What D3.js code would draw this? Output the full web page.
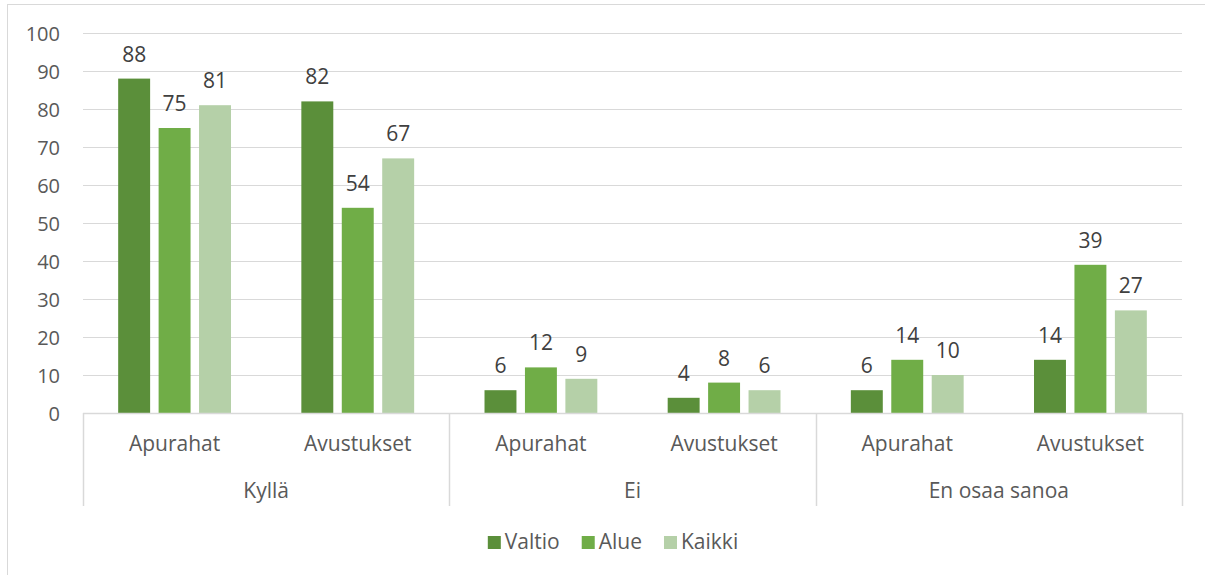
<!DOCTYPE html>
<html>
<head>
<meta charset="utf-8">
<script src="https://cdn.jsdelivr.net/npm/d3@7/dist/d3.min.js"></script>
<style>
  html, body { margin: 0; padding: 0; background: #fff; }
  svg { display: block; }
  text { font-family: "Open Sans", "Liberation Sans", sans-serif; }
</style>
</head>
<body>
<svg id="chart" width="1205" height="575"></svg>
<script>
const groups = ["Kyllä", "Ei", "En osaa sanoa"];
const subcategories = ["Apurahat", "Avustukset"];
const seriesNames = ["Valtio", "Alue", "Kaikki"];
const valtio = [88, 82, 6, 4, 6, 14];
const alue = [75, 54, 12, 8, 14, 39];
const kaikki = [81, 67, 9, 6, 10, 27];
const yTicks = [0, 10, 20, 30, 40, 50, 60, 70, 80, 90, 100];
const colors = ["#5B8F3A", "#70AD47", "#B5D0A8"];

const seriesValues = [valtio, alue, kaikki];

const svg = d3.select("#chart");
const W = 1205, H = 575;

// chart border (Excel chart area)
svg.append("rect")
  .attr("x", 7.5).attr("y", 4.5)
  .attr("width", W + 10).attr("height", H + 10)
  .attr("fill", "#fff").attr("stroke", "#d9d9d9").attr("stroke-width", 1);

const pLeft = 83, pRight = 1182, pTop = 33, pBottom = 413;

const y = d3.scaleLinear().domain([0, 100]).range([pBottom, pTop]);
const xGroup = d3.scaleBand().domain(groups).range([pLeft, pRight]).padding(0);
const xSub = d3.scaleBand().domain(subcategories).range([0, xGroup.bandwidth()]).padding(0);
const xSeries = d3.scaleBand().domain(seriesNames).range([0, xSub.bandwidth()])
  .paddingInner(0.21).paddingOuter(0.87);

// gridlines
svg.append("g").selectAll("line").data(yTicks.filter(d => d > 0)).join("line")
  .attr("x1", pLeft).attr("x2", pRight)
  .attr("y1", d => Math.round(y(d)) + 0.5).attr("y2", d => Math.round(y(d)) + 0.5)
  .attr("stroke", "#d9d9d9").attr("stroke-width", 1);

// y axis labels
const yAxis = d3.axisLeft(y).tickValues(yTicks).tickSize(0).tickPadding(0);
const yg = svg.append("g").attr("transform", `translate(${pLeft - 23},0)`).call(yAxis);
yg.select(".domain").remove();
yg.selectAll("text")
  .attr("fill", "#595959")
  .style("font-size", "20px")
  .style("font-family", "'Open Sans', sans-serif")
  .attr("dy", "0.36em");

// bars
const rows = [];
groups.forEach((g, gi) => {
  subcategories.forEach((s, si) => {
    const idx = gi * subcategories.length + si;
    seriesNames.forEach((n, ni) => {
      rows.push({ g, s, n, ni, v: seriesValues[ni][idx] });
    });
  });
});

const barX = d => xGroup(d.g) + xSub(d.s) + xSeries(d.n);

svg.append("g").selectAll("rect").data(rows).join("rect")
  .attr("x", d => barX(d))
  .attr("width", xSeries.bandwidth())
  .attr("y", d => y(d.v))
  .attr("height", d => y(0) - y(d.v))
  .attr("fill", d => colors[d.ni]);

// value labels
svg.append("g").selectAll("text").data(rows).join("text")
  .attr("x", d => barX(d) + xSeries.bandwidth() / 2)
  .attr("y", d => y(d.v) - 17)
  .attr("text-anchor", "middle")
  .attr("fill", "#404040")
  .style("font-size", "21px")
  .text(d => d.v);

// x axis baseline
svg.append("line")
  .attr("x1", pLeft).attr("x2", pRight)
  .attr("y1", pBottom + 0.5).attr("y2", pBottom + 0.5)
  .attr("stroke", "#d9d9d9").attr("stroke-width", 1.5);

// group separators
const seps = groups.map(g => xGroup(g)).concat([pRight]);
svg.append("g").selectAll("line").data(seps).join("line")
  .attr("x1", d => Math.round(d) + 0.5).attr("x2", d => Math.round(d) + 0.5)
  .attr("y1", pBottom).attr("y2", 506)
  .attr("stroke", "#d9d9d9").attr("stroke-width", 1.5);

// subcategory labels
const subRows = [];
groups.forEach(g => subcategories.forEach(s => subRows.push({ g, s })));
svg.append("g").selectAll("text").data(subRows).join("text")
  .attr("x", d => xGroup(d.g) + xSub(d.s) + xSub.bandwidth() / 2)
  .attr("y", 451)
  .attr("text-anchor", "middle")
  .attr("fill", "#595959")
  .style("font-size", "21px")
  .text(d => d.s);

// group labels
svg.append("g").selectAll("text").data(groups).join("text")
  .attr("x", d => xGroup(d) + xGroup.bandwidth() / 2)
  .attr("y", 498)
  .attr("text-anchor", "middle")
  .attr("fill", "#595959")
  .style("font-size", "21px")
  .text(d => d);

// legend
const legend = svg.append("g");
const items = legend.selectAll("g").data(seriesNames).join("g");
items.append("rect").attr("width", 13).attr("height", 13).attr("y", -13)
  .attr("fill", (d, i) => colors[i]);
items.append("text").attr("x", 17).attr("y", 0)
  .attr("fill", "#595959").style("font-size", "21px").text(d => d);
let xpos = 0;
const positions = [];
items.each(function () {
  positions.push(xpos);
  xpos += this.getBBox().width + 22;
});
const totalW = xpos - 22;
const startX = 613 - totalW / 2;
items.attr("transform", (d, i) => `translate(${startX + positions[i]},549)`);
</script>
</body>
</html>
